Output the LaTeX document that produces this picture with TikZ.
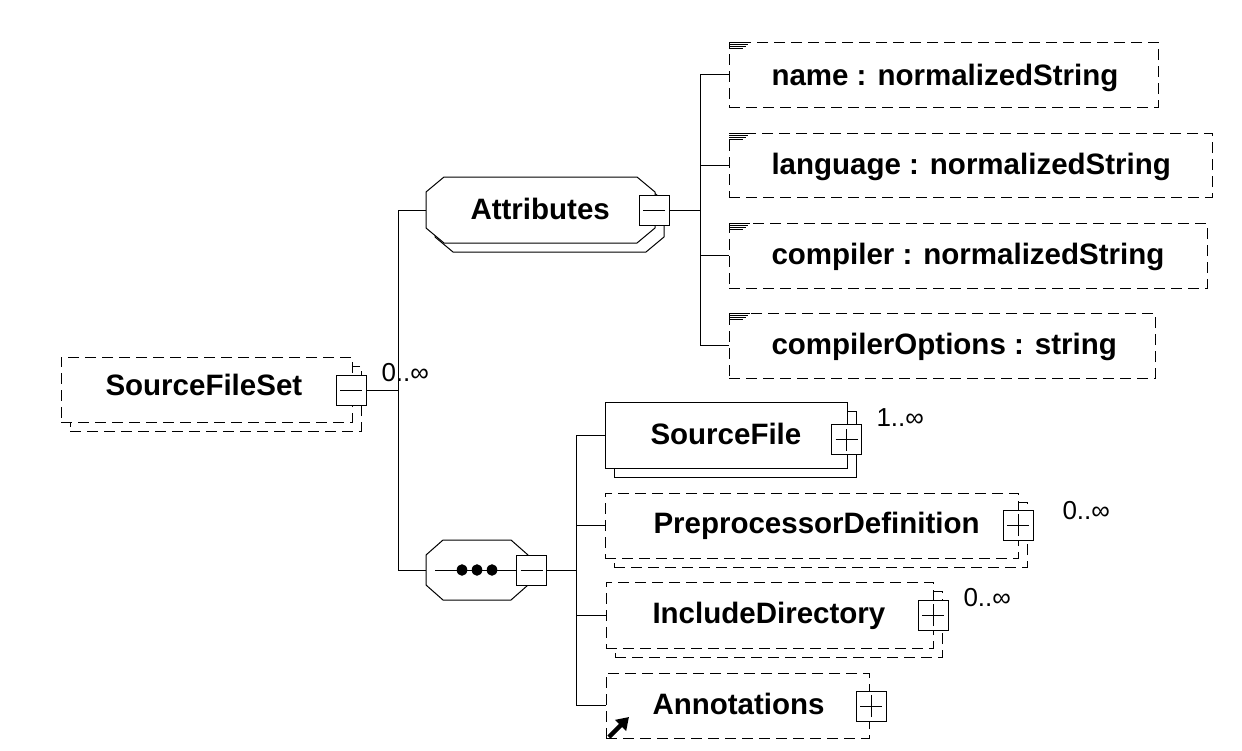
\documentclass[tikz,border=0pt]{standalone}
\usepackage{fontspec}
\setmainfont{Liberation Sans}
\usetikzlibrary{arrows.meta}
\begin{document}
\begin{tikzpicture}[x=1pt,y=-1pt,line width=1pt,
  lbl/.style={font=\fontsize{29.5}{30}\selectfont\bfseries, inner sep=0, anchor=base west},
  card/.style={font=\fontsize{26}{27}\selectfont, inner sep=0, anchor=base west},
  dsh/.style={dash pattern=on 11pt off 6pt},
  box/.style={draw, fill=white, inner sep=0, outer sep=0, anchor=north west},
  pm/.style={draw, fill=white, minimum size=30pt, inner sep=0, outer sep=0},
  minus/.style={pm, path picture={\draw ([xshift=-11pt]path picture bounding box.center) -- ([xshift=11pt]path picture bounding box.center);}},
  plus/.style={pm, path picture={\draw ([xshift=-11pt]path picture bounding box.center) -- ([xshift=11pt]path picture bounding box.center); \draw ([yshift=-11pt]path picture bounding box.center) -- ([yshift=11pt]path picture bounding box.center);}},
  attico/.style={line width=0.8pt}
]
\useasboundingbox (0,0) rectangle (1242,750);
\fill[white] (0,0) rectangle (1242,750);

% ---- junction coordinates
\coordinate (j1) at (398,390);
\coordinate (j3) at (700,210);
\coordinate (j2) at (576,570);

% ---- SourceFileSet
\node[box, dsh, minimum width=291pt, minimum height=65pt] (sfsb) at (70,366) {};
\node[box, dsh, minimum width=291pt, minimum height=65pt] (sfs) at (61,357) {};
\node[lbl] (tsfs) at (105,395) {SourceFileSet};
\node[minus] (sfsm) at (351,390) {};
\node[card] (c0) at (381,381) {0..∞};

% ---- Attributes group
\draw[fill=white] (453,186) -- (646,186) -- (664,201) -- (664,237) -- (646,252) -- (453,252) -- (435,237) -- (435,201) -- cycle;
\draw[fill=white] (444,177) -- (637,177) -- (655,192) -- (655,228) -- (637,243) -- (444,243) -- (426,228) -- (426,192) -- cycle;
\coordinate (attrL) at (426,210);
\node[lbl] (tattr) at (470,219) {Attributes};
\node[minus] (attrm) at (654,210) {};

% ---- sequence compositor
\draw[fill=white] (443,540) -- (511,540) -- (528,555) -- (528,585) -- (511,600) -- (443,600) -- (426,585) -- (426,555) -- cycle;
\coordinate (seqL) at (426,570);
\coordinate (seqI) at (435,570);
\node[minus] (seqm) at (531.5,570) {};
\draw (seqI) -- (seqm.west);
\foreach \x in {462,477,492} \fill (\x,570) ellipse (5.3pt and 5.8pt);

% ---- connectors
\draw (sfsm.east) -- (j1);
\draw (j1) |- (attrL);
\draw (j1) |- (seqL);
\draw (attrm.east) -- (j3);
\draw (seqm.east) -- (j2);

% ---- attributes
\node[box, dsh, minimum width=429pt, minimum height=65pt] (anm) at (729,42) {};
\node[box, dsh, minimum width=483pt, minimum height=64pt] (alang) at (729,133) {};
\node[box, dsh, minimum width=478pt, minimum height=65pt] (acomp) at (729,223) {};
\node[box, dsh, minimum width=426pt, minimum height=65pt] (aopt) at (729,313) {};
\foreach \n in {anm,alang,acomp,aopt}{
  \draw (j3) |- (\n.west);
  \foreach \d/\l in {0/21,2/19,4/17,6/14}
    \draw[attico] ([yshift=-\d pt]\n.north west) -- ++(\l,0);
}
\node[lbl] (tnm) at (771,85) {name : normalizedString};
\node[lbl] (tlang) at (771,174) {language : normalizedString};
\node[lbl] (tcomp) at (771,264) {compiler : normalizedString};
\node[lbl] (topt) at (771,354) {compilerOptions : string};

% ---- SourceFile
\node[box, minimum width=242pt, minimum height=66pt] (sfb) at (614,411) {};
\node[box, minimum width=242pt, minimum height=66pt] (sf) at (605,402) {};
\node[lbl] (tsf) at (650,444) {SourceFile};
\node[plus] (sfp) at (846.5,439.5) {};
\node[card] (c1) at (876,426) {1..∞};

% ---- PreprocessorDefinition
\node[box, dsh, minimum width=413pt, minimum height=65pt] (pdb) at (614,502) {};
\node[box, dsh, minimum width=413pt, minimum height=65pt] (pd) at (605,493) {};
\node[lbl] (tpd) at (653,533) {PreprocessorDefinition};
\node[plus] (pdp) at (1018,525) {};
\node[card] (c2) at (1062,519) {0..∞};

% ---- IncludeDirectory
\node[box, dsh, minimum width=327pt, minimum height=66pt] (idb) at (615,591) {};
\node[box, dsh, minimum width=327pt, minimum height=66pt] (id) at (606,582) {};
\node[lbl] (tid) at (652,623) {IncludeDirectory};
\node[plus] (idp) at (933,615) {};
\node[card] (c3) at (963,606) {0..∞};

% ---- Annotations
\node[box, dsh, minimum width=263pt, minimum height=65pt] (ann) at (606,673) {};
\node[lbl] (tann) at (652,714) {Annotations};
\node[plus] (annp) at (871,706) {};
\draw[line width=4.5pt, -{Triangle[length=12pt,width=15pt]}] (609,737) -- (629,717);

% ---- sequence connectors
\foreach \n in {sf,pd,id,ann} \draw (j2) |- (\n.west);
\end{tikzpicture}
\end{document}
